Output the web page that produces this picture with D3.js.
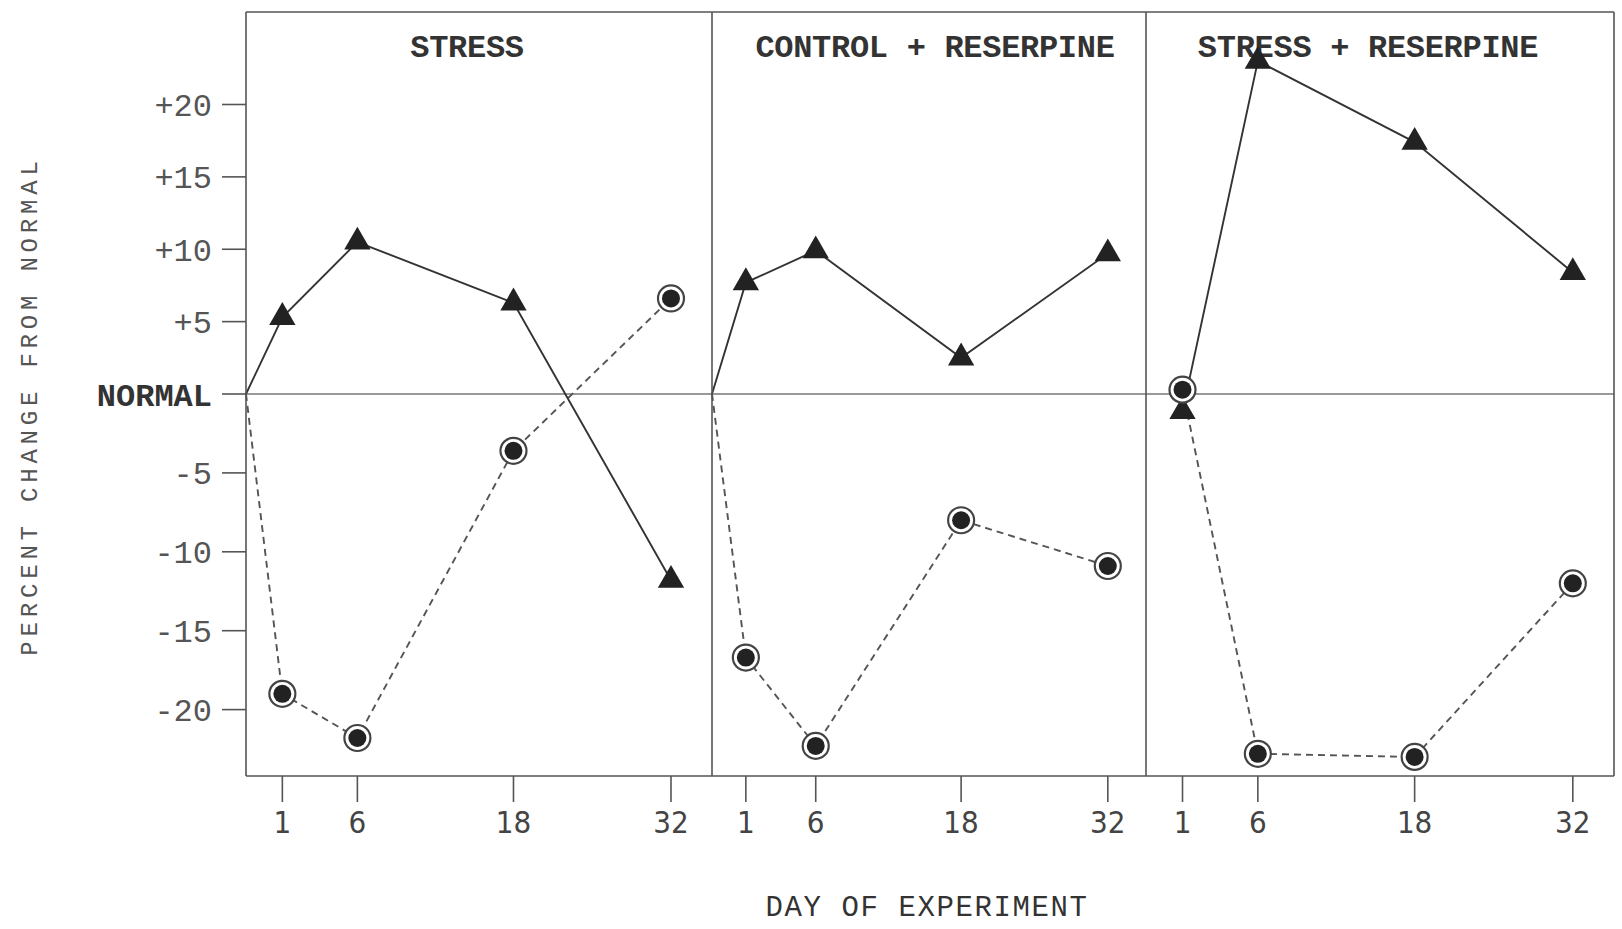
<!DOCTYPE html>
<html>
<head>
<meta charset="utf-8">
<script src="https://cdn.jsdelivr.net/npm/d3@7"></script>
<style>
  body { margin: 0; background: #fff; }
  svg { display: block; }
  .frame line { stroke: #555; stroke-width: 1.6; }
  .tick line { stroke: #555; stroke-width: 1.6; }
  .solid { fill: none; stroke: #333; stroke-width: 1.9; }
  .dashed { fill: none; stroke: #555; stroke-width: 1.9; stroke-dasharray: 7 5; }
  .typed { font-family: "Liberation Mono", monospace; fill: #333; }
  .num { font-family: "DejaVu Sans Condensed", "DejaVu Sans", sans-serif; font-stretch: condensed; fill: #444; }
</style>
</head>
<body>
<svg width="1622" height="929"></svg>
<script>
// panel names and the days sampled
const panelNames = ["STRESS", "CONTROL + RESERPINE", "STRESS + RESERPINE"];
const dayTicks = [1, 6, 18, 32];
const yTicks = [20, 15, 10, 5, 0, -5, -10, -15, -20];
const yTickLabels = ["+20", "+15", "+10", "+5", "NORMAL", "-5", "-10", "-15", "-20"];

// triangles (solid line) and circles (dashed line), % change from normal
const stressDays = [0, 1, 6, 18, 32];
const stressTri = [0, 5.3, 10.5, 6.3, -11.8];
const stressCirc = [0, -19.0, -21.8, -3.6, 6.6];

const ctrlResDays = [0, 1, 6, 18, 32];
const ctrlResTri = [0, 7.7, 9.9, 2.5, 9.7];
const ctrlResCirc = [0, -16.7, -22.3, -8.0, -10.9];

const stressResDays = [1, 6, 18, 32];
const stressResTri = [-1.1, 23.0, 17.4, 8.4];
const stressResCirc = [0.3, -22.8, -23.0, -12.0];

const series = [
  { days: stressDays, tri: stressTri, circ: stressCirc },
  { days: ctrlResDays, tri: ctrlResTri, circ: ctrlResCirc },
  { days: stressResDays, tri: stressResTri, circ: stressResCirc }
];

const svg = d3.select("svg");
const frame = { left: 246, right: 1614, top: 12, bottom: 776 };
// panel edges (the hand-drawn panels are not equal width)
const edges = [246, 712, 1146, 1614];

// the "NORMAL" baseline is not centred between the +20 / -20 ticks
const y = d3.scaleLinear().domain([-20, 0, 20]).range([709.6, 394, 104.5]);

// day axis is drawn unevenly: day 0 sits on the panel edge
const dayDomain = [0, 1, 6, 18, 32];
const dayFrac = [0, 0.078, 0.239, 0.574, 0.912];

// y axis
const yAxis = svg.append("g").attr("transform", `translate(${frame.left},0)`);
yTicks.forEach((v, i) => {
  const g = yAxis.append("g").attr("class", "tick");
  g.append("line").attr("x1", -24).attr("x2", 0).attr("y1", y(v)).attr("y2", y(v));
  g.append("text")
    .attr("class", "typed")
    .attr("x", -34)
    .attr("y", y(v))
    .attr("dy", "0.36em")
    .attr("text-anchor", "end")
    .style("font-size", "32px")
    .style("font-weight", v === 0 ? "bold" : "normal")
    .style("fill", v === 0 ? "#333" : "#555")
    .text(yTickLabels[i]);
});

// normal line across all panels
svg.append("line")
  .attr("x1", frame.left - 10).attr("x2", frame.right)
  .attr("y1", y(0)).attr("y2", y(0))
  .attr("stroke", "#777").attr("stroke-width", 1.6);

const triangle = d3.symbol().type(d3.symbolTriangle).size(300);

series.forEach((s, p) => {
  const x = d3.scaleLinear()
    .domain(dayDomain)
    .range(dayFrac.map(f => edges[p] + f * (edges[p + 1] - edges[p])));

  const g = svg.append("g");

  // title
  g.append("text")
    .attr("class", "typed")
    .attr("x", (edges[p] + edges[p + 1]) / 2 - (p === 1 ? -6 : 12))
    .attr("y", 57)
    .attr("text-anchor", "middle")
    .style("font-size", "32px")
    .style("font-weight", "bold")
    .style("letter-spacing", "-0.3px")
    .text(panelNames[p]);

  // day ticks
  const xAxis = g.append("g").attr("transform", `translate(0,${frame.bottom})`);
  dayTicks.forEach(d => {
    const t = xAxis.append("g").attr("class", "tick");
    t.append("line").attr("x1", x(d)).attr("x2", x(d)).attr("y1", 0).attr("y2", 26);
    t.append("text")
      .attr("class", "num")
      .attr("x", x(d))
      .attr("y", 57)
      .attr("text-anchor", "middle")
      .style("font-size", "31px")
      .text(d);
  });

  const triPts = s.days.map((d, i) => [x(d), y(s.tri[i])]);
  const circPts = s.days.map((d, i) => [x(d), y(s.circ[i])]);

  g.append("path").attr("class", "dashed").attr("d", d3.line()(circPts));
  g.append("path").attr("class", "solid").attr("d", d3.line()(triPts));

  // markers (day 0 is just the start on the normal line)
  const marked = (pts) => pts.filter((pt, i) => s.days[i] !== 0);

  g.selectAll(".tri")
    .data(marked(triPts))
    .join("path")
    .attr("class", "tri")
    .attr("transform", d => `translate(${d[0]},${d[1]})`)
    .attr("d", triangle)
    .attr("fill", "#222");

  const circ = g.selectAll(".circ")
    .data(marked(circPts))
    .join("g")
    .attr("class", "circ")
    .attr("transform", d => `translate(${d[0]},${d[1]})`);
  circ.append("circle").attr("r", 13).attr("fill", "#fff").attr("stroke", "#444").attr("stroke-width", 2.2);
  circ.append("circle").attr("r", 9).attr("fill", "#222");
});

// frame: border and panel dividers
const fr = svg.append("g").attr("class", "frame");
fr.append("line").attr("x1", frame.left).attr("x2", frame.right).attr("y1", frame.top).attr("y2", frame.top);
fr.append("line").attr("x1", frame.left).attr("x2", frame.right).attr("y1", frame.bottom).attr("y2", frame.bottom);
edges.forEach(e => {
  fr.append("line").attr("x1", e).attr("x2", e).attr("y1", frame.top).attr("y2", frame.bottom);
});

// axis titles
svg.append("text")
  .attr("class", "typed")
  .attr("transform", `translate(37,${(frame.top + frame.bottom) / 2 + 12}) rotate(-90)`)
  .attr("text-anchor", "middle")
  .style("font-size", "24px")
  .style("letter-spacing", "4.8px")
  .style("fill", "#555")
  .text("PERCENT CHANGE FROM NORMAL");

svg.append("text")
  .attr("class", "typed")
  .attr("x", 927)
  .attr("y", 916)
  .attr("text-anchor", "middle")
  .style("font-size", "29px")
  .style("letter-spacing", "1.6px")
  .text("DAY OF EXPERIMENT");
</script>
</body>
</html>
